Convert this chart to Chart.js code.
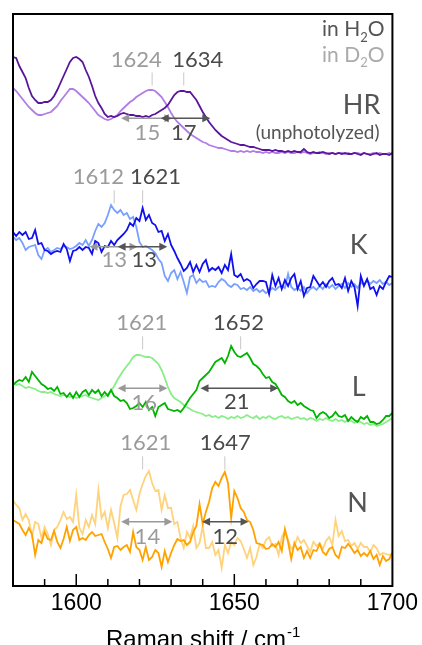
<!DOCTYPE html>
<html>
<head>
<meta charset="utf-8">
<script src="https://cdn.jsdelivr.net/npm/chart.js@4.4.1/dist/chart.umd.min.js"></script>
<style>
  html, body { margin: 0; padding: 0; background: #fff; }
  #wrap { width: 422px; height: 645px; }
</style>
</head>
<body>
<div id="wrap"><canvas id="ramanChart" width="422" height="645"></canvas></div>
<script>
// Raman shift grid, cm-1
const wavenumbers = [
  1580,1581,1582,1583,1584,1585,1586,1587,1588,1589,1590,1591,1592,1593,1594,1595,1596,1597,1598,1599,
  1600,1601,1602,1603,1604,1605,1606,1607,1608,1609,1610,1611,1612,1613,1614,1615,1616,1617,1618,1619,
  1620,1621,1622,1623,1624,1625,1626,1627,1628,1629,1630,1631,1632,1633,1634,1635,1636,1637,1638,1639,
  1640,1641,1642,1643,1644,1645,1646,1647,1648,1649,1650,1651,1652,1653,1654,1655,1656,1657,1658,1659,
  1660,1661,1662,1663,1664,1665,1666,1667,1668,1669,1670,1671,1672,1673,1674,1675,1676,1677,1678,1679,
  1680,1681,1682,1683,1684,1685,1686,1687,1688,1689,1690,1691,1692,1693,1694,1695,1696,1697,1698,1699,1700
];

// stacked intensities (arb. units, vertical offsets already included)
const hrH2O = [
  529,528,520,514,508,498,490,486,483,483,484,484,486,490,496,503,510,517,524,528,
  529,527,524,516,509,500,490,483,478,472,469,470,469,470,472,473,472,471,471,470,
  470,469,470,469,471,472,474,476,478,481,486,491,494,495,495,494,494,490,486,480,
  474,469,464,460,456,453,450,448,446,444,443,442,441,441,440,439,439,438,437,436,
  436,436,435,436,435,435,434,435,434,435,434,434,437,434,433,434,433,433,434,433,
  432,433,432,433,432,433,432,432,433,432,431,433,432,431,432,433,431,432,432,431,433
];
const hrD2O = [
  498,495,491,487,483,479,476,473,471,471,472,473,474,477,480,485,489,493,497,497,
  495,492,489,486,483,479,475,471,469,467,466,467,469,471,475,478,481,484,486,489,
  491,493,495,496,496,495,492,489,484,479,473,468,464,461,458,455,452,450,448,446,
  444,443,441,440,439,438,438,437,436,435,435,434,435,434,435,434,435,434,434,433,
  434,433,434,433,433,434,433,434,433,433,434,433,434,433,432,433,433,434,433,432,
  433,433,432,433,433,432,433,432,433,433,432,433,432,432,433,432,433,432,432,433,432
];
const kH2O = [
  354,350,354,351,354,347,348,356,342,343,336,335,332,334,335,334,342,337,325,335,
  336,339,336,339,338,332,345,343,334,340,339,345,341,346,349,352,356,363,360,368,
  365,378,366,371,363,361,354,355,345,352,341,335,328,322,315,318,324,314,321,314,
  322,326,315,318,316,319,313,321,316,332,311,309,312,305,307,305,298,302,305,305,
  304,292,311,300,308,297,306,300,308,312,297,305,290,298,299,310,305,300,304,299,
  305,308,301,302,298,308,295,305,299,280,310,300,307,297,299,291,300,297,304,310,309
];
const kD2O = [
  349,346,348,343,336,339,340,341,331,327,336,338,334,336,338,337,340,339,337,338,
  340,343,341,346,340,346,355,362,359,363,371,381,376,373,376,371,373,367,369,359,
  344,339,340,338,336,333,327,323,310,305,313,316,307,314,304,293,309,311,303,307,
  304,305,299,300,299,304,307,305,301,299,302,301,297,298,296,299,295,297,294,296,
  293,295,298,296,299,300,298,312,299,296,298,295,299,293,297,299,296,300,297,302,
  298,301,297,300,302,298,303,299,302,298,304,301,306,302,305,303,306,302,304,301,303
];
const lH2O = [
  201,204,206,205,209,204,214,210,206,202,200,197,198,195,199,192,193,189,193,188,
  194,189,194,196,191,196,193,196,190,194,190,196,190,188,185,186,183,177,178,180,
  183,179,184,176,179,170,179,181,183,177,176,175,176,174,178,183,188,192,196,205,
  208,211,214,219,224,226,228,223,230,240,234,230,229,231,233,228,222,220,217,212,
  208,209,204,202,197,191,189,185,183,185,181,183,180,178,176,175,168,172,174,172,
  168,170,174,170,169,171,165,169,166,164,169,167,170,164,164,162,163,166,170,170,173
];
const lD2O = [
  203,201,202,200,198,199,198,197,195,194,194,193,194,192,191,190,191,190,189,190,
  188,189,190,191,189,188,187,186,188,190,192,195,200,206,211,216,220,224,229,231,
  231,230,229,229,228,225,222,216,208,199,192,188,186,184,181,179,177,175,174,173,
  172,170,171,169,170,168,170,169,167,169,168,170,168,169,171,169,168,170,167,169,
  168,170,168,167,169,170,168,169,167,168,169,167,168,166,168,167,165,167,166,168,
  166,165,167,165,166,164,166,165,163,165,164,162,163,161,162,160,161,162,164,166,168
];
const nH2O = [
  66,64,62,56,51,58,52,31,46,43,54,47,46,55,44,38,47,59,45,56,
  59,46,48,46,51,54,50,51,52,44,37,28,39,40,36,39,41,34,54,39,
  36,26,39,26,29,36,33,19,35,24,33,41,47,45,46,41,44,54,60,82,
  62,74,84,98,104,100,108,114,103,68,95,88,78,74,66,64,56,43,42,41,
  37,38,42,39,44,35,57,44,27,43,36,39,28,35,28,36,35,42,34,31,
  37,39,31,28,39,38,42,38,33,36,30,33,30,35,27,31,21,30,25,27,33
];
const nD2O = [
  86,81,78,66,72,66,50,64,62,48,59,52,41,56,59,66,74,67,69,64,
  91,58,52,66,59,71,62,96,68,74,58,76,63,48,80,91,92,96,86,76,
  92,102,110,115,103,95,96,76,91,78,78,62,64,48,38,54,48,60,38,43,
  60,38,38,44,31,36,18,41,33,44,41,48,45,37,28,38,21,29,42,38,
  46,49,40,42,31,49,55,46,37,40,49,43,46,40,34,44,40,43,37,45,
  49,41,66,50,55,45,46,40,43,37,43,39,39,34,41,38,31,33,32,31,33
];

// H2O traces first so they sit on top of the D2O ones
const series = [
  { name: 'HR in H2O', values: hrH2O, color: '#5a1699' },
  { name: 'K in H2O',  values: kH2O,  color: '#1010ee' },
  { name: 'L in H2O',  values: lH2O,  color: '#00b400' },
  { name: 'N in H2O',  values: nH2O,  color: '#ffa200' },
  { name: 'HR in D2O', values: hrD2O, color: '#b27ce6' },
  { name: 'K in D2O',  values: kD2O,  color: '#78a0ff' },
  { name: 'L in D2O',  values: lD2O,  color: '#88ee88' },
  { name: 'N in D2O',  values: nD2O,  color: '#ffd27c' }
];

// band maxima: value = position in cm-1, at = label centre (cm-1), y = label height
const peakLabels = [
  { value: 1624, at: 1619.0, y: 526.5, h2o: false },
  { value: 1634, at: 1638.4, y: 526.5, h2o: true },
  { value: 1612, at: 1607.0, y: 408.7, h2o: false },
  { value: 1621, at: 1625.1, y: 408.7, h2o: true },
  { value: 1621, at: 1620.7, y: 262.7, h2o: false },
  { value: 1652, at: 1651.3, y: 262.7, h2o: true },
  { value: 1621, at: 1622.0, y: 142.7, h2o: false },
  { value: 1647, at: 1647.1, y: 142.7, h2o: true }
];

// band widths (FWHM, cm-1) with their double arrows
const widthArrows = [
  { fwhm: 15, from: 1614.2, to: 1630.4, y: 467.7, at: 1622.5, ty: 453.0, h2o: false },
  { fwhm: 17, from: 1626.7, to: 1642.4, y: 467.7, at: 1634.0, ty: 453.0, h2o: true },
  { fwhm: 13, from: 1604.2, to: 1619.4, y: 339.3, at: 1612.0, ty: 326.0, h2o: false },
  { fwhm: 13, from: 1613.1, to: 1628.8, y: 339.3, at: 1621.5, ty: 326.0, h2o: true },
  { fwhm: 16, from: 1613.1, to: 1628.8, y: 197.7, at: 1621.5, ty: 183.0, h2o: false },
  { fwhm: 21, from: 1639.3, to: 1663.9, y: 197.7, at: 1650.8, ty: 184.0, h2o: true },
  { fwhm: 14, from: 1614.2, to: 1630.4, y: 64.3,  at: 1622.5, ty: 49.3,  h2o: false },
  { fwhm: 12, from: 1639.8, to: 1654.5, y: 64.3,  at: 1647.1, ty: 49.3,  h2o: true }
];

const intermediates = [
  { text: 'HR', right: 1696.2, y: 481, size: 27 },
  { text: '(unphotolyzed)', right: 1695.9, y: 453, size: 19 },
  { text: 'K', right: 1692.2, y: 341, size: 27 },
  { text: 'L', right: 1691.5, y: 199, size: 27 },
  { text: 'N', right: 1692.2, y: 83, size: 27 }
];

const FONT = 'Lato, "Open Sans", sans-serif';
const DARK = '#4a4a4a';
const GREY = '#9b9b9b';

function drawArrow(ctx, x1, x2, yy, color) {
  const h = 8, w = 4;
  ctx.strokeStyle = color;
  ctx.fillStyle = color;
  ctx.lineWidth = 1.5;
  ctx.beginPath();
  ctx.moveTo(x1 + h - 1, yy);
  ctx.lineTo(x2 - h + 1, yy);
  ctx.stroke();
  ctx.beginPath();
  ctx.moveTo(x1, yy); ctx.lineTo(x1 + h, yy - w); ctx.lineTo(x1 + h, yy + w);
  ctx.closePath(); ctx.fill();
  ctx.beginPath();
  ctx.moveTo(x2, yy); ctx.lineTo(x2 - h, yy - w); ctx.lineTo(x2 - h, yy + w);
  ctx.closePath(); ctx.fill();
}

// "in H2O" style text with a subscript digit, right aligned
function drawFormula(ctx, before, sub, after, right, cy, size, color) {
  const big = size + 'px ' + FONT;
  const small = Math.round(size * 0.62) + 'px ' + FONT;
  ctx.font = big;
  const w1 = ctx.measureText(before).width;
  const w3 = ctx.measureText(after).width;
  ctx.font = small;
  const w2 = ctx.measureText(sub).width;
  let x0 = right - (w1 + w2 + w3);
  ctx.fillStyle = color;
  ctx.textAlign = 'left';
  ctx.textBaseline = 'middle';
  ctx.font = big;
  ctx.fillText(before, x0, cy);
  ctx.font = small;
  ctx.fillText(sub, x0 + w1, cy + size * 0.38);
  ctx.font = big;
  ctx.fillText(after, x0 + w1 + w2, cy);
}

const decorations = {
  id: 'decorations',
  afterDatasetsDraw(chart) {
    const { ctx, chartArea: a, scales: { x, y } } = chart;
    ctx.save();

    // frame and inward ticks
    ctx.strokeStyle = '#000';
    ctx.lineWidth = 2;
    ctx.strokeRect(a.left, a.top, a.right - a.left, a.bottom - a.top);
    ctx.lineWidth = 1.5;
    x.ticks.forEach(t => {
      if (t.value <= x.min || t.value >= x.max) return;
      const px = x.getPixelForValue(t.value);
      const len = t.value % 50 === 0 ? 12 : 7;
      ctx.beginPath();
      ctx.moveTo(px, a.bottom);
      ctx.lineTo(px, a.bottom - len);
      ctx.stroke();
    });

    // peak positions
    ctx.textAlign = 'center';
    ctx.textBaseline = 'middle';
    ctx.font = '22px ' + FONT;
    peakLabels.forEach(p => {
      const cy = y.getPixelForValue(p.y);
      const tx = x.getPixelForValue(p.value);
      ctx.strokeStyle = '#c8c8c8';
      ctx.lineWidth = 1;
      ctx.beginPath();
      ctx.moveTo(tx, cy + 13);
      ctx.lineTo(tx, cy + 26);
      ctx.stroke();
      ctx.fillStyle = p.h2o ? DARK : GREY;
      ctx.fillText(String(p.value), x.getPixelForValue(p.at), cy);
    });

    // widths
    widthArrows.forEach(w => {
      const col = w.h2o ? '#555555' : '#999999';
      drawArrow(ctx, x.getPixelForValue(w.from), x.getPixelForValue(w.to), y.getPixelForValue(w.y), col);
      ctx.fillStyle = w.h2o ? DARK : GREY;
      ctx.font = '22px ' + FONT;
      ctx.textAlign = 'center';
      ctx.fillText(String(w.fwhm), x.getPixelForValue(w.at), y.getPixelForValue(w.ty));
    });

    // intermediate names
    ctx.textAlign = 'right';
    intermediates.forEach(s => {
      ctx.font = s.size + 'px ' + FONT;
      ctx.fillStyle = '#555555';
      ctx.fillText(s.text, x.getPixelForValue(s.right), y.getPixelForValue(s.y));
    });

    // solvent key
    drawFormula(ctx, 'in H', '2', 'O', x.getPixelForValue(1697.5), y.getPixelForValue(556.5), 21, '#555555');
    drawFormula(ctx, 'in D', '2', 'O', x.getPixelForValue(1697.5), y.getPixelForValue(531), 21, '#aaaaaa');

    // axis title with superscript
    const main = 'Raman shift / cm';
    const sup = '-1';
    ctx.font = '24px "Liberation Sans", Arial, sans-serif';
    const wm = ctx.measureText(main).width;
    ctx.font = '15px "Liberation Sans", Arial, sans-serif';
    const ws = ctx.measureText(sup).width;
    const left = (a.left + a.right) / 2 - (wm + ws) / 2;
    ctx.fillStyle = '#000';
    ctx.textAlign = 'left';
    ctx.textBaseline = 'alphabetic';
    ctx.font = '24px "Liberation Sans", Arial, sans-serif';
    ctx.fillText(main, left, 647);
    ctx.font = '15px "Liberation Sans", Arial, sans-serif';
    ctx.fillText(sup, left + wm + 1, 637);

    ctx.restore();
  }
};

const ctx = document.getElementById('ramanChart').getContext('2d');
const ramanChart = new Chart(ctx, {
  type: 'line',
  data: {
    datasets: series.map(s => ({
      label: s.name,
      data: wavenumbers.map((w, i) => ({ x: w, y: s.values[i] })),
      borderColor: s.color,
      borderWidth: 1.8,
      pointRadius: 0,
      tension: 0,
      fill: false
    }))
  },
  options: {
    responsive: false,
    animation: false,
    layout: { padding: { left: 13, right: 27, top: 14, bottom: 0 } },
    plugins: { legend: { display: false }, tooltip: { enabled: false } },
    scales: {
      x: {
        type: 'linear',
        min: 1580,
        max: 1700,
        afterFit(scale) { scale.height = 59; },
        grid: { display: false, drawTicks: false },
        border: { display: false },
        ticks: {
          stepSize: 10,
          autoSkip: false,
          maxRotation: 0,
          padding: 4,
          color: '#000',
          font: { family: '"Liberation Sans", Arial, sans-serif', size: 23 },
          callback: v => (v % 50 === 0 ? String(v) : '')
        }
      },
      y: { display: false, min: 0, max: 572 }
    }
  },
  plugins: [decorations]
});
</script>
</body>
</html>
